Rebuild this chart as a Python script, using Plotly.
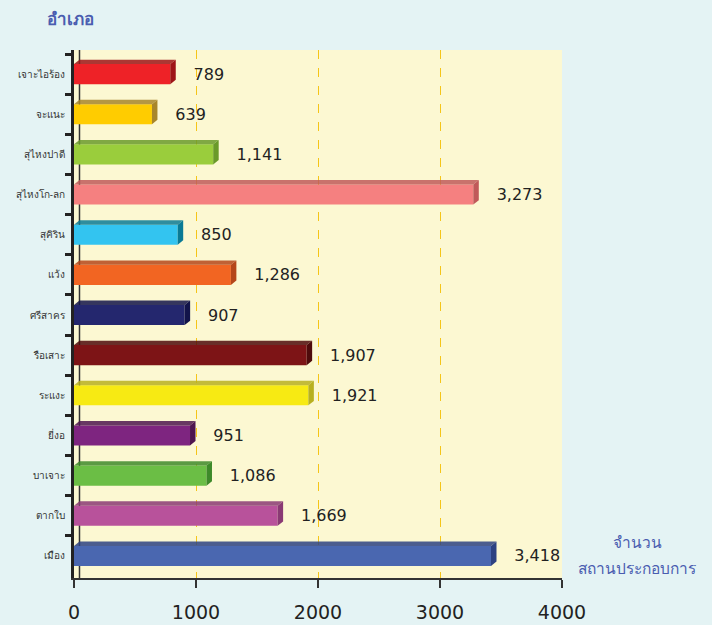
import plotly.graph_objects as go

districts = ["เจาะไอร้อง", "จะแนะ", "สุไหงปาดี", "สุไหงโก-ลก", "สุคิริน", "แว้ง",
             "ศรีสาคร", "รือเสาะ", "ระแงะ", "ยี่งอ", "บาเจาะ", "ตากใบ", "เมือง"]
counts = [789, 639, 1141, 3273, 850, 1286, 907, 1907, 1921, 951, 1086, 1669, 3418]
colors = ["#EE2227", "#FFCC00", "#9ACD3C", "#F58080", "#33C4F0", "#F26522",
          "#24276E", "#7D1416", "#F7EA13", "#7E2580", "#6BBE45", "#B8529B", "#4A67B0"]
edge_colors = ["#9E1518", "#A8862A", "#6A9A2A", "#C05A5A", "#0A7A95", "#B5471A",
               "#12144A", "#4E0B0C", "#B8B020", "#4E1650", "#3E8A2A", "#8A3A74", "#2D4282"]
x_ticks = [0, 1000, 2000, 3000, 4000]

BAR_W = 0.5
DEPTH_X = 45      # depth offset in data units
DEPTH_Y = 0.11    # depth offset in category units

fig = go.Figure()
fig.add_trace(go.Bar(
    y=districts, x=counts, orientation="h",
    marker=dict(color=colors, line=dict(width=0)),
    width=BAR_W,
    text=[f"    {v:,}" for v in counts], textposition="outside",
    textfont=dict(size=16, color="#222222", family="DejaVu Sans"),
    cliponaxis=False, hoverinfo="skip",
))

shapes = []
for i, (v, ec) in enumerate(zip(counts, edge_colors)):
    top = i - BAR_W / 2
    bot = i + BAR_W / 2
    shapes.append(dict(type="path", xref="x", yref="y", layer="above",
                       path=f"M 0,{top} L {v},{top} L {v + DEPTH_X},{top - DEPTH_Y} L {DEPTH_X},{top - DEPTH_Y} Z",
                       fillcolor=ec, line=dict(width=0), opacity=0.85))
    shapes.append(dict(type="path", xref="x", yref="y", layer="above",
                       path=f"M {v},{top} L {v + DEPTH_X},{top - DEPTH_Y} L {v + DEPTH_X},{bot - DEPTH_Y} L {v},{bot} Z",
                       fillcolor=ec, line=dict(width=0)))
# back wall edge of the 3D frame
shapes.append(dict(type="line", xref="x", yref="paper", x0=DEPTH_X, x1=DEPTH_X, y0=0, y1=1,
                   line=dict(color="#333333", width=1.5), layer="below"))

n = len(districts)
fig.update_layout(
    width=712, height=625,
    margin=dict(l=74, r=150, t=50, b=47, autoexpand=False),
    paper_bgcolor="#E4F3F4",
    plot_bgcolor="#FCF8D2",
    showlegend=False,
    shapes=shapes,
    xaxis=dict(range=[0, 4000], tickvals=x_ticks, ticktext=[str(t) for t in x_ticks],
               showgrid=True, gridcolor="#F5C518", griddash="dash", gridwidth=1,
               showline=True, linecolor="#333333", linewidth=2,
               ticks="outside", ticklen=8, tickcolor="#333333", tickwidth=2,
               ticklabelstandoff=8, automargin=False,
               tickfont=dict(size=19, color="#222222", family="DejaVu Sans"),
               zeroline=False),
    yaxis=dict(range=[n - 0.45, -0.6], showline=True, linecolor="#222222", linewidth=3,
               ticks="outside", tickson="boundaries", ticklen=6, tickwidth=3, tickcolor="#222222",
               ticklabelstandoff=4, automargin=False,
               tickfont=dict(size=10, color="#333333"), showgrid=False),
    annotations=[
        dict(text="<b>อำเภอ</b>", x=-0.06, y=1.085, xref="paper", yref="paper", xanchor="left",
             showarrow=False, font=dict(size=17, color="#4A5DB0")),
        dict(text="จำนวน", xref="paper", yref="paper",
             x=1.154, xanchor="center", y=0.068, yanchor="middle", showarrow=False,
             font=dict(size=15.5, color="#4A5DB0")),
        dict(text="สถานประกอบการ", xref="paper", yref="paper",
             x=1.154, xanchor="center", y=0.019, yanchor="middle", showarrow=False,
             font=dict(size=15.5, color="#4A5DB0")),
    ],
)
fig.write_html("out.html", config={"displayModeBar": False},
               post_script="document.body.style.margin='0';")
